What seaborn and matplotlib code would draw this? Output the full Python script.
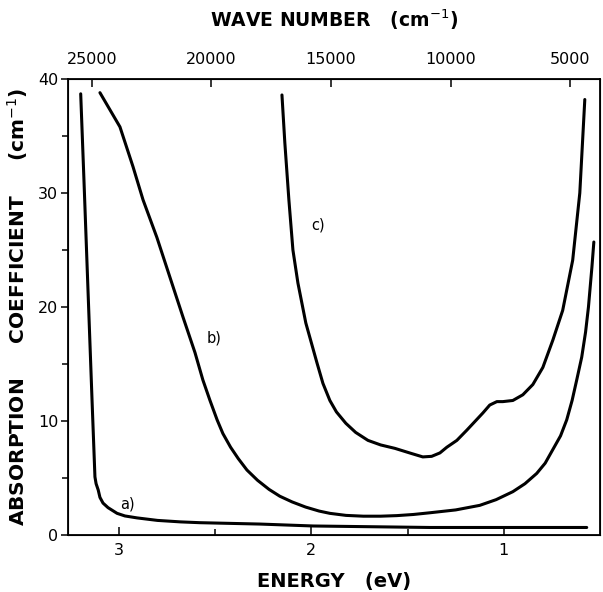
import matplotlib
matplotlib.use("Agg")
import matplotlib.pyplot as plt
import seaborn as sns
import pandas as pd

# ---- data ----
a_energy = [3.199, 3.182, 3.140, 3.125, 3.119, 3.108, 3.099, 3.083, 3.057, 3.010, 2.969, 2.906, 2.800,
            2.680, 2.580, 2.268, 1.990, 1.384, 0.569]
a_coef   = [38.7, 31.1, 11.8, 5.1, 4.5, 3.95, 3.3, 2.8, 2.4, 1.9, 1.67, 1.5, 1.28,
            1.15, 1.08, 0.96, 0.79, 0.66, 0.66]

b_energy = [3.099, 2.995, 2.927, 2.875, 2.803, 2.735, 2.667, 2.605, 2.564, 2.527, 2.490, 2.460, 2.420,
            2.380, 2.335, 2.280, 2.220, 2.164, 2.100, 2.030, 1.960, 1.904, 1.820, 1.730, 1.640,
            1.556, 1.470, 1.384, 1.250, 1.125, 1.040, 0.953, 0.890, 0.829, 0.785, 0.745, 0.705,
            0.673, 0.645, 0.621, 0.595, 0.575, 0.560, 0.542, 0.532]
b_coef   = [38.8, 35.8, 32.3, 29.4, 26.1, 22.6, 19.1, 16.0, 13.6, 11.8, 10.1, 8.9, 7.7,
            6.7, 5.7, 4.8, 4.0, 3.4, 2.9, 2.45, 2.1, 1.9, 1.72, 1.65, 1.65,
            1.7, 1.8, 1.95, 2.2, 2.6, 3.1, 3.8, 4.5, 5.4, 6.3, 7.5, 8.7,
            10.1, 11.8, 13.6, 15.6, 17.8, 20.0, 23.5, 25.7]

c_energy = [2.153, 2.138, 2.117, 2.096, 2.070, 2.029, 1.971, 1.940, 1.904, 1.870, 1.821, 1.770, 1.706,
            1.640, 1.566, 1.480, 1.421, 1.375, 1.332, 1.296, 1.244, 1.192, 1.109, 1.073, 1.036, 1.005,
            0.953, 0.901, 0.849, 0.797, 0.745, 0.694, 0.642, 0.605, 0.579]
c_coef   = [38.6, 34.4, 29.4, 25.0, 22.1, 18.6, 15.1, 13.3, 11.8, 10.8, 9.8, 9.0, 8.3,
            7.9, 7.6, 7.15, 6.85, 6.9, 7.2, 7.7, 8.3, 9.2, 10.7, 11.4, 11.7, 11.7,
            11.8, 12.3, 13.2, 14.7, 17.1, 19.7, 24.1, 30.0, 38.2]

curve_names = ["a)", "b)", "c)"]
label_pos_energy = [2.958, 2.506, 1.966]
label_pos_coef = [2.7, 17.3, 27.2]

x_ticks = [3, 2, 1]
x_minor = [2.5, 1.5]
y_ticks = [0, 10, 20, 30, 40]
y_minor = [5, 15, 25, 35]
wn_ticks = [25000, 20000, 15000, 10000, 5000]
wn_minor = [22500, 17500, 12500, 7500]

frames = []
for name, e, c in zip(curve_names, [a_energy, b_energy, c_energy], [a_coef, b_coef, c_coef]):
    frames.append(pd.DataFrame({"energy": e, "coef": c, "curve": name}))
df = pd.concat(frames, ignore_index=True)

sns.set_style("ticks")
plt.rcParams["font.family"] = ["DejaVu Sans"]
plt.rcParams["text.color"] = "black"
plt.rcParams["axes.labelcolor"] = "black"
plt.rcParams["xtick.color"] = "black"
plt.rcParams["ytick.color"] = "black"
plt.rcParams["axes.edgecolor"] = "black"

fig = plt.figure(figsize=(6.03, 5.92), dpi=100)
ax = fig.add_axes([68 / 603, 1 - 535 / 592, (600 - 68) / 603, (535 - 79) / 592])

sns.lineplot(data=df, x="energy", y="coef", hue="curve", units="curve", estimator=None, sort=False,
             palette=["black"] * 3, linewidth=2.2, legend=False, ax=ax)
for ln in ax.lines:
    ln.set_solid_joinstyle("round")
    ln.set_solid_capstyle("round")

for name, xe, yc in zip(curve_names, label_pos_energy, label_pos_coef):
    ax.text(xe, yc, name, fontsize=10.5, ha="center", va="center")

ax.set_xlim(3.265, 0.50)
ax.set_ylim(0, 40)
ax.set_xticks(x_ticks)
ax.set_xticks(x_minor, minor=True)
ax.set_yticks(y_ticks)
ax.set_yticks(y_minor, minor=True)
ax.tick_params(axis="x", which="major", direction="in", length=6, width=1.1, labelsize=11.5, pad=6)
ax.tick_params(axis="x", which="minor", direction="in", length=4, width=1.1)
ax.tick_params(axis="y", which="major", direction="out", length=5, width=1.1, labelsize=11.5, pad=2)
ax.tick_params(axis="y", which="minor", direction="out", length=4, width=1.1)
for s in ax.spines.values():
    s.set_linewidth(1.3)
    s.set_visible(True)

ax.set_xlabel("ENERGY   (eV)", fontsize=14, fontweight="semibold", labelpad=10)
ax.set_ylabel("ABSORPTION     COEFFICIENT     (cm$^{-1}$)", fontsize=14.5, fontweight="semibold", labelpad=6)

top = ax.twiny()
top.set_xlim(26004, 3745)
top.set_xticks(wn_ticks)
top.set_xticks(wn_minor, minor=True)
top.tick_params(axis="x", which="major", direction="in", length=6, width=1.1, labelsize=11.5, pad=9)
top.tick_params(axis="x", which="minor", direction="in", length=0)
top.set_xlabel("WAVE NUMBER   (cm$^{-1}$)", fontsize=13.5, fontweight="semibold", labelpad=18)
top.grid(False)

fig.savefig("out.png", dpi=100)
